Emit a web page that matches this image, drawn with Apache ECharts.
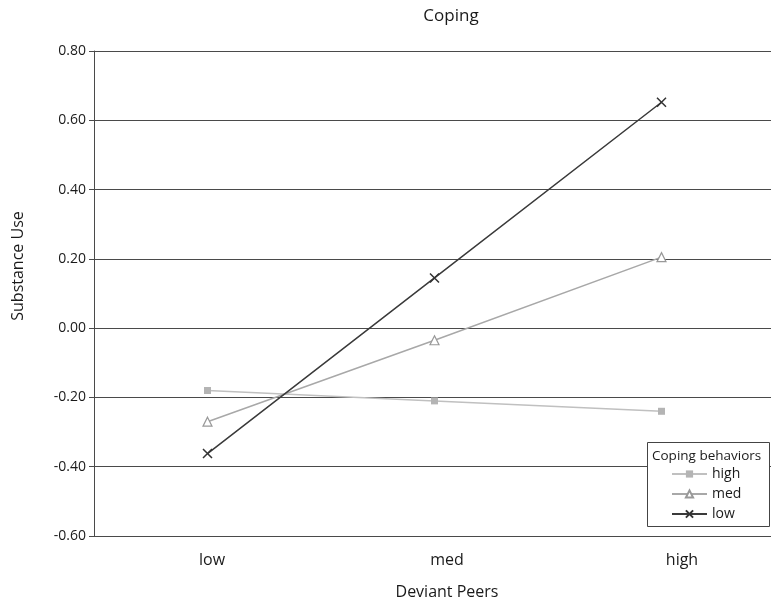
<!DOCTYPE html>
<html>
<head>
<meta charset="utf-8">
<script src="https://cdn.jsdelivr.net/npm/echarts@6/dist/echarts.min.js"></script>
<style>
html,body{margin:0;padding:0;background:#fff;}
#chart{width:771px;height:610px;}
</style>
</head>
<body>
<div id="chart"></div>
<script>
var categories = ['low', 'med', 'high'];
var highCoping = [-0.18, -0.21, -0.24];
var medCoping = [-0.27, -0.035, 0.205];
var lowCoping = [-0.362, 0.145, 0.652];
var seriesNames = ['high', 'med', 'low'];
var yMin = -0.6, yMax = 0.8, yStep = 0.2;

var FONT = '"Open Sans", sans-serif';
var chart = echarts.init(document.getElementById('chart'));

chart.setOption({
  animation: false,
  backgroundColor: '#fff',
  textStyle: { fontFamily: FONT },
  title: {
    text: 'Coping',
    left: 446, top: 3, textAlign: 'center',
    textStyle: { fontFamily: FONT, fontSize: 17, fontWeight: 'normal', color: '#1a1a1a' }
  },
  grid: [
    { left: 94, top: 51, width: 681, height: 485, outerBoundsMode: 'none', containLabel: false },
    { left: 94.5, top: 51, width: 705, height: 485, outerBoundsMode: 'none', containLabel: false }
  ],
  xAxis: [
    {
      type: 'category', gridIndex: 0, data: categories, boundaryGap: true,
      axisLine: { show: false }, axisTick: { show: false }, axisLabel: { show: false },
      splitLine: { show: false }
    },
    {
      type: 'category', gridIndex: 1, data: categories, boundaryGap: true,
      axisLine: { show: false }, axisTick: { show: false },
      axisLabel: { margin: 16, fontSize: 16, color: '#1a1a1a', fontFamily: FONT },
      splitLine: { show: false },
      name: 'Deviant Peers', nameLocation: 'middle', nameGap: 48,
      nameTextStyle: { fontSize: 16, color: '#1a1a1a', fontFamily: FONT }
    }
  ],
  yAxis: [
    {
      type: 'value', gridIndex: 0, min: yMin, max: yMax, interval: yStep,
      axisLine: { show: true, lineStyle: { color: '#4a4a4a', width: 1 } },
      axisTick: { show: true, length: 5, lineStyle: { color: '#4a4a4a' } },
      axisLabel: {
        margin: 8, fontSize: 14, color: '#1a1a1a', fontFamily: FONT,
        formatter: function (v) { return v.toFixed(2); }
      },
      splitLine: { show: true, lineStyle: { color: '#4a4a4a', width: 1.2 } }
    },
    {
      type: 'value', gridIndex: 1, min: yMin, max: yMax, interval: yStep,
      show: false
    }
  ],
  legend: {
    orient: 'vertical',
    left: 647, top: 442,
    padding: [25, 6, 4, 24],
    itemWidth: 35, itemHeight: 9, itemGap: 6,
    data: seriesNames,
    textStyle: { fontSize: 14, color: '#1a1a1a', fontFamily: FONT, lineHeight: 14 },
    z: 6
  },
  graphic: [
    {
      type: 'rect', z: 5,
      shape: { x: 647.5, y: 442.5, width: 122, height: 84 },
      style: { fill: '#fff', stroke: '#444', lineWidth: 1 }
    },
    {
      type: 'text', z: 6,
      x: 652, y: 456,
      style: {
        text: 'Coping behaviors', fontSize: 13.5, fontFamily: FONT, fill: '#1a1a1a',
        textAlign: 'left', textVerticalAlign: 'middle'
      }
    },
    {
      type: 'text', z: 6,
      x: 18, y: 266, rotation: Math.PI / 2,
      style: {
        text: 'Substance Use', fontSize: 16, fontFamily: FONT, fill: '#1a1a1a',
        textAlign: 'center', textVerticalAlign: 'middle'
      }
    }
  ],
  series: [
    {
      name: seriesNames[0], type: 'line', xAxisIndex: 0, yAxisIndex: 0,
      data: highCoping,
      symbol: 'rect', symbolSize: 7,
      lineStyle: { color: '#c0c0c0', width: 1.5 },
      itemStyle: { color: '#b4b4b4', borderWidth: 0 },
      emphasis: { disabled: true }
    },
    {
      name: seriesNames[1], type: 'line', xAxisIndex: 0, yAxisIndex: 0,
      data: medCoping,
      symbol: 'triangle', symbolSize: 9,
      lineStyle: { color: '#a8a8a8', width: 1.5 },
      itemStyle: { color: '#fff', borderColor: '#999', borderWidth: 1.2 },
      emphasis: { disabled: true }
    },
    {
      name: seriesNames[2], type: 'line', xAxisIndex: 0, yAxisIndex: 0,
      data: lowCoping,
      symbol: 'path://M0,0L10,10M10,0L0,10', symbolSize: 9,
      lineStyle: { color: '#3a3a3a', width: 1.5 },
      itemStyle: { color: 'none', borderColor: '#333', borderWidth: 1.5 },
      emphasis: { disabled: true }
    }
  ]
});
</script>
</body>
</html>
